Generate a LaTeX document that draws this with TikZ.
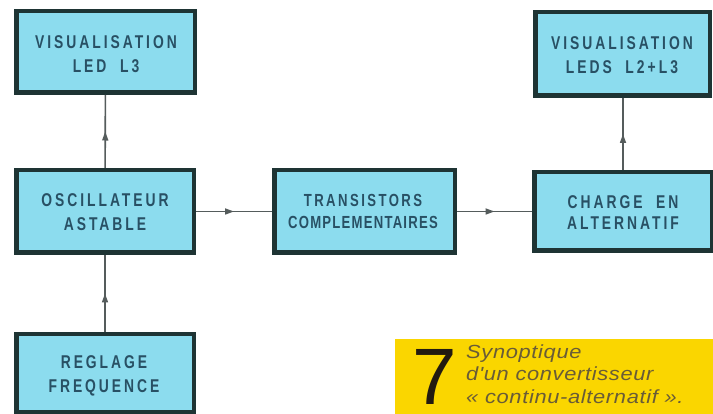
\documentclass[tikz,border=0pt]{standalone}
\usepackage{fontspec}
\usetikzlibrary{decorations.markings,arrows.meta}
\newfontfamily\boxfont[FakeStretch=0.75,LetterSpace=16]{Liberation Sans Bold}
\newfontfamily\boxfonttight[FakeStretch=0.75,LetterSpace=7]{Liberation Sans Bold}
\newfontfamily\capfont[FakeStretch=1.15,LetterSpace=3.5]{Liberation Sans Italic}
\newfontfamily\numfont{Liberation Sans}
\definecolor{boxfill}{RGB}{140,220,238}
\definecolor{boxline}{RGB}{30,52,52}
\definecolor{boxtext}{RGB}{40,80,100}
\definecolor{connc}{RGB}{85,92,92}
\definecolor{capyellow}{RGB}{250,214,0}
\definecolor{captext}{RGB}{105,92,55}
\definecolor{numc}{RGB}{34,26,16}
\tikzset{
  blockbox/.style={draw=boxline, line width=4.5pt, fill=boxfill, rectangle, inner sep=0pt},
  blocktext/.style={inner sep=0pt, align=center, text=boxtext,
    font=\boxfont\fontsize{18.5}{24}\selectfont},
  conn/.style={draw=connc, line width=1.6pt,
    postaction={decorate},
    decoration={markings, mark=at position 0.5 with {\arrow[connc]{Triangle[length=9pt,width=6pt]}}}},
  captext/.style={anchor=base west, inner sep=0pt, text=captext, font=\capfont\fontsize{19}{21.7}\selectfont},
}
\begin{document}
\begin{tikzpicture}[x=1pt,y=-1pt]
\useasboundingbox (0,0) rectangle (713,414);
\fill[white] (0,0) rectangle (713,414);
% boxes
\node[blockbox, minimum width=178.5pt, minimum height=81.5pt] (led3) at (105.5,52) {};
\node[blocktext] (led3t) at (106,54) {VISUALISATION\\LED~~L3};
\node[blockbox, minimum width=177.5pt, minimum height=82.5pt] (osc) at (105,211.5) {};
\node[blocktext] (osct) at (105,212) {OSCILLATEUR\\ASTABLE};
\node[blockbox, minimum width=177.5pt, minimum height=77.5pt] (regl) at (105,373) {};
\node[blocktext] (reglt) at (104,376) {REGLAGE\\FREQUENCE};
\node[blockbox, minimum width=180.5pt, minimum height=82.5pt] (trans) at (364.5,211.5) {};
\node[blocktext, font=\boxfonttight\fontsize{17.5}{22}\selectfont] (transt) at (363,211.5) {{\addfontfeatures{LetterSpace=14}TRANSISTORS}\\COMPLEMENTAIRES};
\node[blockbox, minimum width=177.5pt, minimum height=78.5pt] (charge) at (623,211.5) {};
\node[blocktext, font=\boxfont\fontsize{18.5}{21.5}\selectfont] (charget) at (623,212.5) {CHARGE~~EN\\ALTERNATIF};
\node[blockbox, minimum width=174.5pt, minimum height=83.5pt] (leds) at (622.5,54) {};
\node[blocktext] (ledst) at (622,55) {VISUALISATION\\LEDS~~L2\,{\addfontfeatures{LetterSpace=0}+}\,L3};
% connectors
\draw[conn] (osc) -- (led3);
\draw[conn] (regl) -- (osc);
\draw[conn] (osc) -- (trans);
\draw[conn] (trans) -- (charge);
\draw[conn] (charge.north) -- (charge.north |- leds.south);
% caption
\fill[capyellow] (395,339) rectangle (716,416);
\node[anchor=base west, inner sep=0pt, text=numc, font=\numfont\fontsize{80}{80}\selectfont] (num) at (412,404) {7};
\node[captext] (cap1) at (466,359) {Synoptique};
\node[captext] (cap2) at (466,381) {d'un convertisseur};
\node[captext] (cap3) at (466,403) {« continu-alternatif ».};
\end{tikzpicture}
\end{document}
